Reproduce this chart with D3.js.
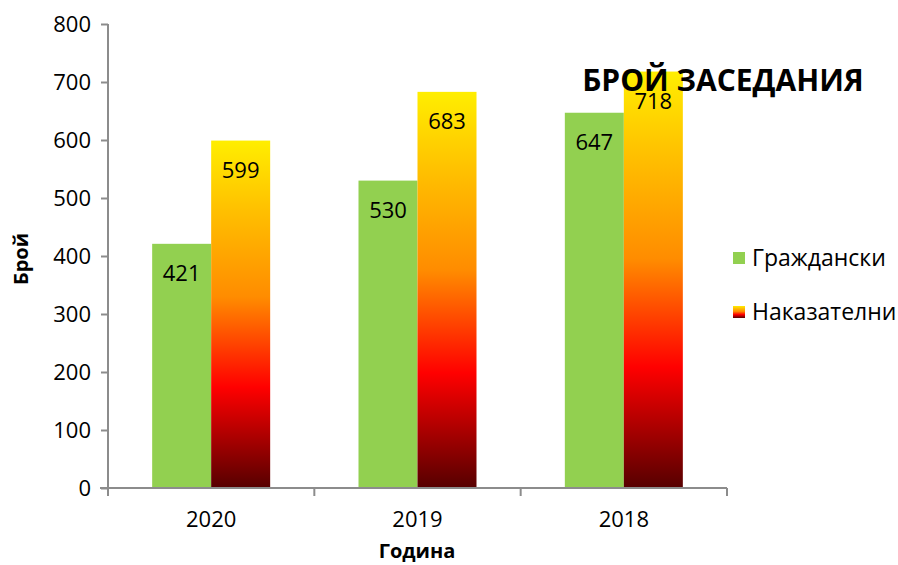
<!DOCTYPE html>
<html>
<head>
<meta charset="utf-8">
<script src="https://cdn.jsdelivr.net/npm/d3@7"></script>
<style>
  body { margin: 0; background: #fff; }
  svg, svg text { font-family: "Open Sans", "Noto Sans", sans-serif; }
</style>
</head>
<body>
<div id="chart"></div>
<script>
// data
const years = ["2020", "2019", "2018"];
const civil = [421, 530, 647];     // Граждански
const criminal = [599, 683, 718];  // Наказателни
const seriesNames = ["Граждански", "Наказателни"];
const yTicks = [0, 100, 200, 300, 400, 500, 600, 700, 800];

let w = 898, h = 565;
let svg = d3.select("#chart").append("svg").attr("width", w).attr("height", h);

// gradient for the second series
let defs = svg.append("defs");
let grad = defs.append("linearGradient")
    .attr("id", "fire")
    .attr("x1", 0).attr("y1", 0).attr("x2", 0).attr("y2", 1);
[[0, "#ffee00"], [0.2, "#ffc000"], [0.45, "#ff8c00"], [0.71, "#ff0000"], [1, "#560000"]]
    .forEach(s => grad.append("stop").attr("offset", s[0]).attr("stop-color", s[1]));

let x = d3.scaleBand().domain(years).range([108, 727]);
let y = d3.scaleLinear().domain([0, 800]).range([488, 24]);
let barW = 59;

// axes
let yAxis = d3.axisLeft(y).tickValues(yTicks).tickSize(7).tickPadding(10);
let gy = svg.append("g").attr("transform", "translate(108,0)").call(yAxis)
    .attr("font-family", null);
gy.select(".domain").attr("stroke", "#8c8c8c").attr("stroke-width", 2).attr("d", "M0,24V488");
gy.selectAll(".tick line").attr("stroke", "#8c8c8c").attr("stroke-width", 2);
gy.selectAll(".tick text").attr("font-size", 22).attr("fill", "#000").attr("dy", "0.35em");

// bars
let groups = svg.append("g").selectAll("g").data(years).join("g");
groups.append("rect")
    .attr("x", (d, i) => x(d) + x.bandwidth() / 2 - barW)
    .attr("y", (d, i) => y(civil[i]))
    .attr("width", barW)
    .attr("height", (d, i) => y(0) - y(civil[i]))
    .attr("fill", "#92d050");
groups.append("rect")
    .attr("x", d => x(d) + x.bandwidth() / 2)
    .attr("y", (d, i) => y(criminal[i]))
    .attr("width", barW)
    .attr("height", (d, i) => y(0) - y(criminal[i]))
    .attr("fill", "url(#fire)");

// x axis
let xAxis = d3.axisBottom(x).tickSize(0).tickPadding(23);
let gx = svg.append("g").attr("transform", "translate(0,488)").call(xAxis)
    .attr("font-family", null);
gx.select(".domain").attr("stroke", "#8c8c8c").attr("stroke-width", 2).attr("d", "M100,0H727");
gx.selectAll(".tick text").attr("font-size", 22).attr("fill", "#000");
svg.append("g").selectAll("line")
    .data(d3.range(years.length + 1))
    .join("line")
    .attr("x1", i => 108 + i * x.step()).attr("x2", i => 108 + i * x.step())
    .attr("y1", 488).attr("y2", 496)
    .attr("stroke", "#8c8c8c").attr("stroke-width", 2);

// value labels
groups.append("text")
    .attr("x", d => x(d) + x.bandwidth() / 2 - barW / 2)
    .attr("y", (d, i) => y(civil[i]) + 37)
    .attr("text-anchor", "middle").attr("font-size", 22)
    .text((d, i) => civil[i]);
groups.append("text")
    .attr("x", d => x(d) + x.bandwidth() / 2 + barW / 2)
    .attr("y", (d, i) => y(criminal[i]) + 37)
    .attr("text-anchor", "middle").attr("font-size", 22)
    .text((d, i) => criminal[i]);

// titles
svg.append("text").attr("x", 723).attr("y", 91)
    .attr("text-anchor", "middle").attr("font-size", 30).attr("font-weight", "bold")
    .text("БРОЙ ЗАСЕДАНИЯ");
svg.append("text").attr("x", 417).attr("y", 558)
    .attr("text-anchor", "middle").attr("font-size", 20).attr("font-weight", "bold")
    .text("Година");
svg.append("text").attr("transform", "translate(28,259) rotate(-90)")
    .attr("text-anchor", "middle").attr("font-size", 20).attr("font-weight", "bold")
    .text("Брой");

// legend
let leg = svg.append("g").selectAll("g").data(seriesNames).join("g")
    .attr("transform", (d, i) => `translate(733,${252 + i * 54})`);
leg.append("rect").attr("width", 12).attr("height", 12)
    .attr("fill", (d, i) => i === 0 ? "#92d050" : "url(#fire)");
leg.append("text").attr("x", 19).attr("y", 14).attr("font-size", 23).text(d => d);
</script>
</body>
</html>
